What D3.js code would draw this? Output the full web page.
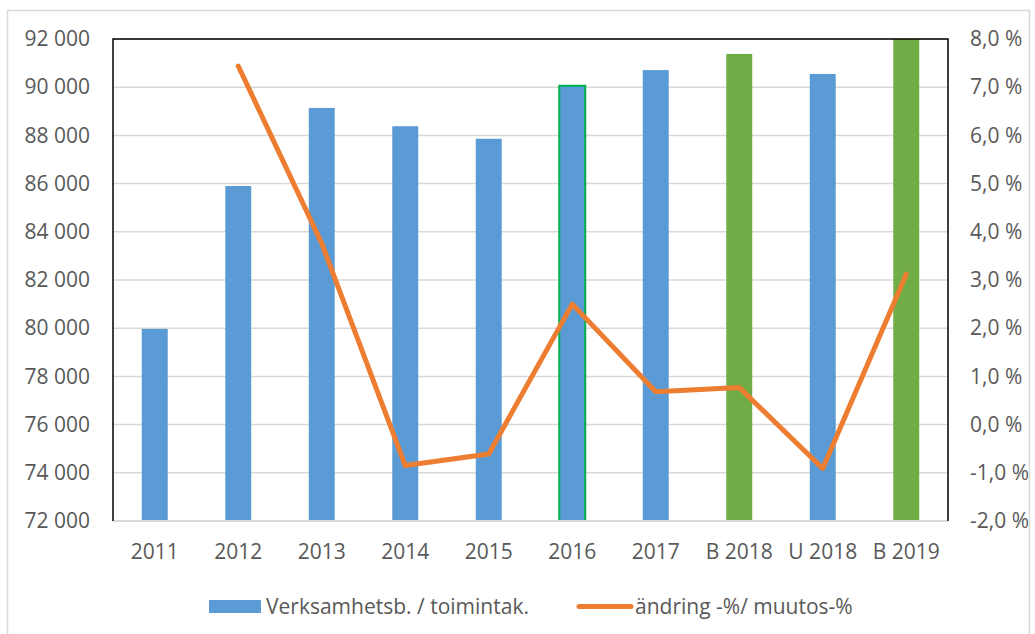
<!DOCTYPE html>
<html>
<head>
<meta charset="utf-8">
<script src="https://cdn.jsdelivr.net/npm/d3@7"></script>
<style>
  html, body { margin: 0; padding: 0; background: #ffffff; }
  svg { display: block; }
  text { font-family: "Open Sans", "Noto Sans", sans-serif; fill: #595959; }
</style>
</head>
<body>
<svg id="chart" width="1035" height="634"></svg>
<script>
// ---- data ----
const categories = ["2011", "2012", "2013", "2014", "2015", "2016", "2017", "B 2018", "U 2018", "B 2019"];
const operatingCosts = [79970, 85900, 89140, 88380, 87860, 90060, 90710, 91380, 90550, 93380];
const changePct = [null, 7.44, 3.76, -0.85, -0.61, 2.50, 0.68, 0.77, -0.91, 3.12];
const barKind = ["actual", "actual", "actual", "actual", "actual", "marked", "actual", "budget", "actual", "budget"];
const leftTicks = [72000, 74000, 76000, 78000, 80000, 82000, 84000, 86000, 88000, 90000, 92000];
const rightTicks = [-2, -1, 0, 1, 2, 3, 4, 5, 6, 7, 8];
const seriesNames = ["Verksamhetsb. / toimintak.", "ändring -%/ muutos-%"];

// ---- layout ----
const W = 1035, H = 634;
const plot = { left: 113, right: 948, top: 39, bottom: 521 };
const COLORS = { blue: "#5B9BD5", green: "#70AD47", orange: "#ED7D31", outline: "#00B050", grid: "#D9D9D9" };
const FS = "21px";

const svg = d3.select("#chart");

const locale = d3.formatLocale({ decimal: ",", thousands: "\u00a0", grouping: [3], currency: ["", " €"], minus: "-" });
const fmtLeft = locale.format(",.0f");
const fmtRight = v => locale.format(".1f")(v) + " %";

const x = d3.scaleBand()
  .domain(categories)
  .range([plot.left, plot.right])
  .paddingInner(0.689)
  .paddingOuter(0.3445);

const yL = d3.scaleLinear().domain([72000, 92000]).range([plot.bottom, plot.top]);
const yR = d3.scaleLinear().domain([-2, 8]).range([plot.bottom, plot.top]);

// outer chart border
svg.append("rect")
  .attr("x", 7.5).attr("y", 10.5)
  .attr("width", 1022).attr("height", 660)
  .attr("fill", "none").attr("stroke", COLORS.grid).attr("stroke-width", 1.5);

// clip
svg.append("defs").append("clipPath").attr("id", "plotclip")
  .append("rect")
  .attr("x", plot.left).attr("y", plot.top)
  .attr("width", plot.right - plot.left).attr("height", plot.bottom - plot.top);

// gridlines
svg.append("g").attr("class", "grid")
  .selectAll("line")
  .data(leftTicks.filter(t => t !== 72000))
  .join("line")
  .attr("x1", plot.left).attr("x2", plot.right)
  .attr("y1", d => yL(d)).attr("y2", d => yL(d))
  .attr("stroke", COLORS.grid).attr("stroke-width", 1.5);

// bars
const barData = categories.map((c, i) => ({ c, v: operatingCosts[i], kind: barKind[i] }));
svg.append("g").attr("clip-path", "url(#plotclip)")
  .selectAll("rect")
  .data(barData)
  .join("rect")
  .attr("x", d => x(d.c))
  .attr("width", x.bandwidth())
  .attr("y", d => yL(d.v))
  .attr("height", d => yL(72000) - yL(d.v))
  .attr("fill", d => d.kind === "budget" ? COLORS.green : COLORS.blue)
  .attr("stroke", d => d.kind === "marked" ? COLORS.outline : "none")
  .attr("stroke-width", d => d.kind === "marked" ? 2 : 0);

// bottom axis line (gray)
svg.append("line")
  .attr("x1", plot.left).attr("x2", plot.right)
  .attr("y1", plot.bottom).attr("y2", plot.bottom)
  .attr("stroke", COLORS.grid).attr("stroke-width", 2);

// plot frame (left, top, right) black
svg.append("path")
  .attr("d", `M${plot.left},${plot.bottom} V${plot.top} H${plot.right} V${plot.bottom}`)
  .attr("fill", "none").attr("stroke", "#000").attr("stroke-width", 1.5);

// line
const lineData = categories.map((c, i) => ({ c, v: changePct[i] }));
const line = d3.line()
  .defined(d => d.v !== null)
  .x(d => x(d.c) + x.bandwidth() / 2)
  .y(d => yR(d.v));
svg.append("path")
  .datum(lineData)
  .attr("d", line)
  .attr("fill", "none")
  .attr("stroke", COLORS.orange)
  .attr("stroke-width", 5)
  .attr("stroke-linejoin", "round")
  .attr("stroke-linecap", "round");

// left axis labels
const axL = svg.append("g")
  .attr("transform", `translate(${plot.left},0)`)
  .call(d3.axisLeft(yL).tickValues(leftTicks).tickFormat(fmtLeft).tickSize(0).tickPadding(23));
axL.select(".domain").remove();
axL.selectAll("text").style("font-size", FS).attr("fill", "#595959").attr("font-family", null);

// right axis labels
const axR = svg.append("g")
  .attr("transform", `translate(${plot.right},0)`)
  .call(d3.axisRight(yR).tickValues(rightTicks).tickFormat(fmtRight).tickSize(0).tickPadding(22));
axR.select(".domain").remove();
axR.selectAll("text").style("font-size", FS).attr("fill", "#595959").attr("font-family", null);

// x axis labels
const axX = svg.append("g")
  .attr("transform", `translate(0,${plot.bottom})`)
  .call(d3.axisBottom(x).tickSize(0).tickPadding(0));
axX.select(".domain").remove();
axX.selectAll("text")
  .attr("dy", null)
  .attr("y", 38)
  .style("font-size", FS).attr("fill", "#595959").attr("font-family", null);

// legend
const lg = svg.append("g");
lg.append("rect")
  .attr("x", 209).attr("y", 600).attr("width", 52).attr("height", 13)
  .attr("fill", COLORS.blue);
lg.append("text")
  .attr("x", 266).attr("y", 614)
  .style("font-size", FS)
  .text(seriesNames[0]);
lg.append("line")
  .attr("x1", 579).attr("x2", 631).attr("y1", 606.5).attr("y2", 606.5)
  .attr("stroke", COLORS.orange).attr("stroke-width", 5).attr("stroke-linecap", "round");
lg.append("text")
  .attr("x", 635).attr("y", 614)
  .style("font-size", FS)
  .text(seriesNames[1]);
</script>
</body>
</html>
